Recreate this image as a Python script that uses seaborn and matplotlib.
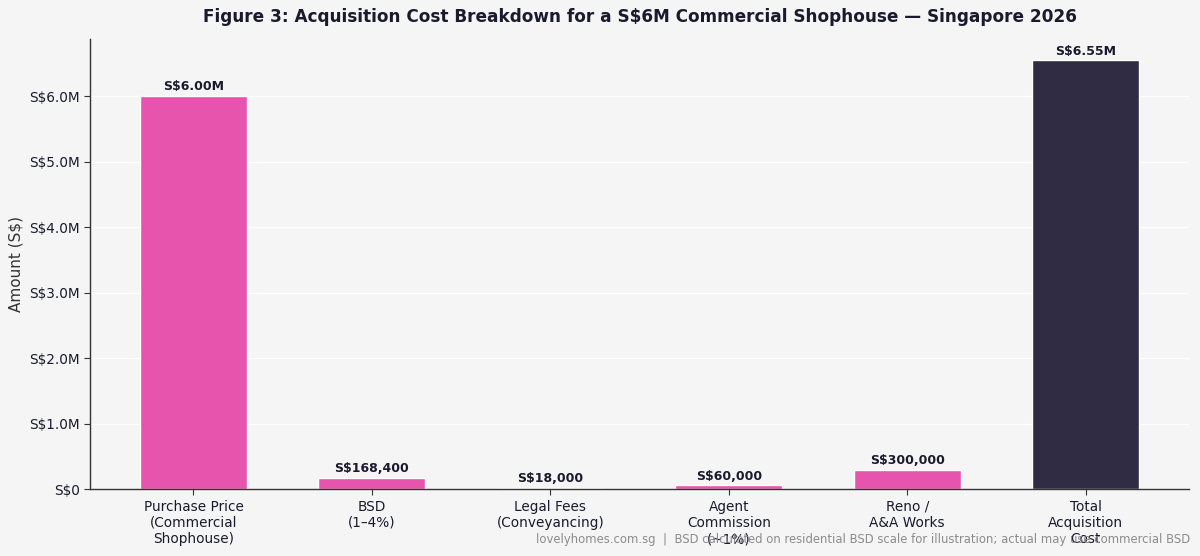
import pandas as pd
import numpy as np
import matplotlib
matplotlib.use("Agg")
import matplotlib.pyplot as plt
import seaborn as sns
from matplotlib.ticker import FuncFormatter

categories = ["Purchase Price\n(Commercial\nShophouse)", "BSD\n(1–4%)", "Legal Fees\n(Conveyancing)",
              "Agent\nCommission\n(~1%)", "Reno /\nA&A Works", "Total\nAcquisition\nCost"]
amounts = [6000000, 168400, 18000, 60000, 300000, 6546400]
bar_labels = ["S$6.00M", "S$168,400", "S$18,000", "S$60,000", "S$300,000", "S$6.55M"]
bar_colors = ["#e754ae", "#e754ae", "#e754ae", "#e754ae", "#e754ae", "#2f2c43"]

df = pd.DataFrame({"category": categories, "amount": amounts})

sns.set_style("whitegrid")
plt.rcParams["font.family"] = ["DejaVu Sans"]

fig, ax = plt.subplots(figsize=(12, 5.56), dpi=100)
fig.patch.set_facecolor("#f5f5f5")
ax.set_facecolor("#f5f5f5")

sns.barplot(data=df, x="category", y="amount", hue="category", palette=bar_colors,
            width=0.6, legend=False, ax=ax, saturation=1)

for i, (v, lab) in enumerate(zip(amounts, bar_labels)):
    ax.annotate(lab, (i, v), xytext=(0, 2), textcoords="offset points",
                ha="center", va="bottom", fontsize=9, fontweight="bold", color="#1a1a2e")

ax.set_xlim(-0.58, 5.58)
ax.set_ylim(0, max(amounts) * 1.05)
ax.yaxis.set_major_formatter(FuncFormatter(lambda x, p: "S$0" if x == 0 else f"S${x/1e6:.1f}M"))
ax.grid(axis="y", color="white", linewidth=1)
ax.grid(axis="x", visible=False)
ax.set_axisbelow(True)

for s in ["top", "right"]:
    ax.spines[s].set_visible(False)
for s in ["left", "bottom"]:
    ax.spines[s].set_color("#333333")
    ax.spines[s].set_linewidth(1)

ax.tick_params(axis="both", which="both", length=4, color="#333333", labelsize=9.8,
               labelcolor="#1a1a2e", left=True, bottom=True)
ax.set_xlabel("")
ax.set_ylabel("Amount (S$)", fontsize=11, color="#333333")
ax.set_title("Figure 3: Acquisition Cost Breakdown for a S$6M Commercial Shophouse — Singapore 2026",
             fontsize=12.2, fontweight="bold", color="#1a1a2e", pad=12)

fig.text(0.992, 0.018, "lovelyhomes.com.sg  |  BSD calculated on residential BSD scale for illustration; actual may use commercial BSD",
         ha="right", va="bottom", fontsize=8.4, color="#8c8c8c")

plt.subplots_adjust(left=0.075, right=0.991, top=0.93, bottom=0.12)
plt.savefig("out.png", dpi=100, facecolor=fig.get_facecolor())
